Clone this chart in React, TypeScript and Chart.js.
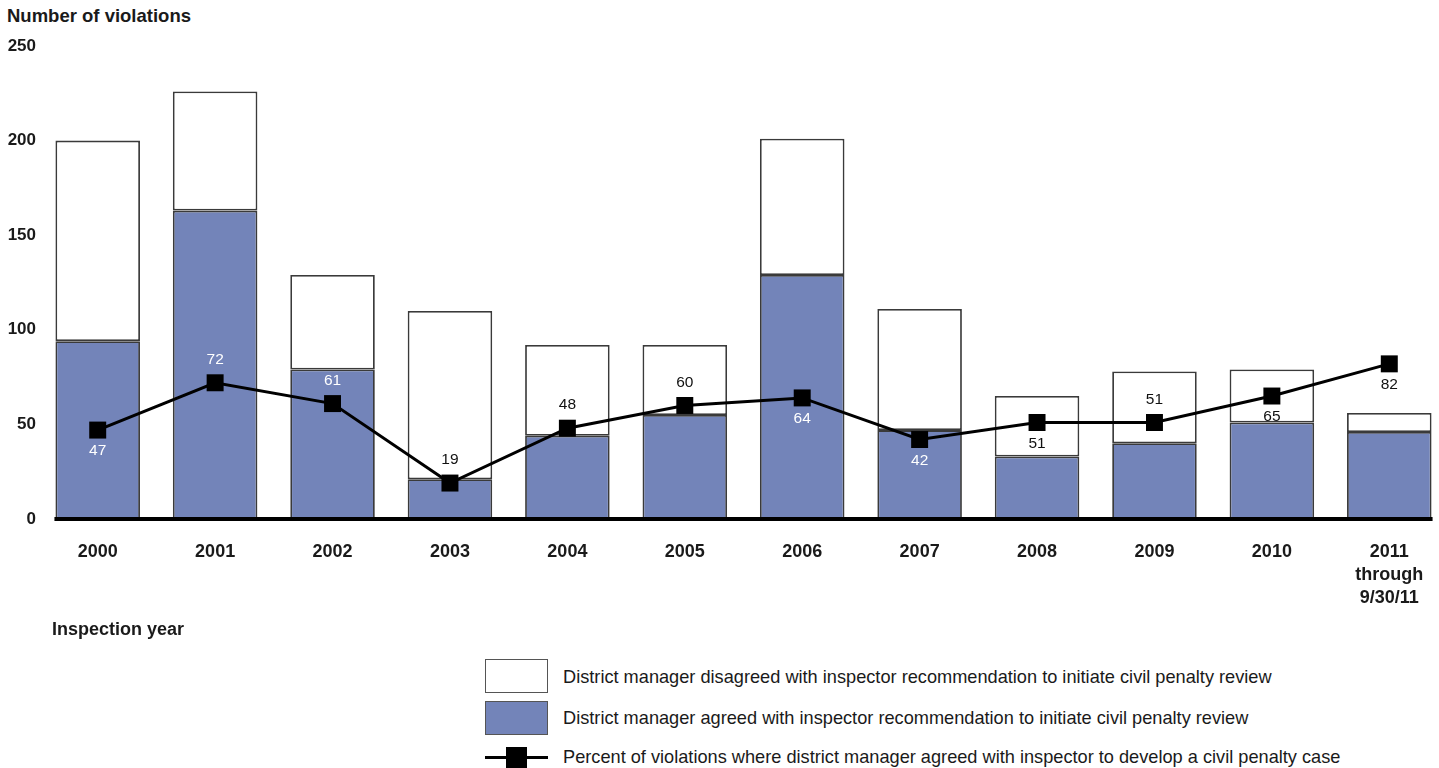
import React, { useEffect, useRef } from "react";
import { Chart, registerables } from "chart.js";

Chart.register(...registerables);

const categories: (string | string[])[] = [
  "2000", "2001", "2002", "2003", "2004", "2005", "2006", "2007", "2008", "2009", "2010",
  ["2011", "through", "9/30/11"],
];
const agreed = [94, 163, 79, 21, 44, 55, 129, 47, 33, 40, 51, 46];
const disagreed = [106, 63, 50, 89, 48, 37, 72, 64, 32, 38, 28, 10];
const percentAgreed = [47, 72, 61, 19, 48, 60, 64, 42, 51, 51, 65, 82];
const yTicks = [0, 50, 100, 150, 200, 250];

const labelPlacement = ["below", "above", "above", "above", "above", "above", "below", "below", "below", "above", "below", "below"];

const FONT = "'Liberation Sans', Arial, Helvetica, sans-serif";
const BLUE = "#7384b9";
const EDGE = "#3a3a3a";

const pointLabels = {
  id: "pointLabels",
  afterDatasetsDraw(chart: any) {
    const ctx = chart.ctx;
    const lineMeta = chart.getDatasetMeta(2);
    const blueMeta = chart.getDatasetMeta(0);
    ctx.save();
    ctx.font = `15.5px ${FONT}`;
    ctx.textAlign = "center";
    ctx.textBaseline = "middle";
    lineMeta.data.forEach((pt: any, i: number) => {
      const above = labelPlacement[i] === "above";
      const y = pt.y + (above ? -23 : 21);
      const bar = blueMeta.data[i];
      const inBlue = y > bar.y && y < bar.base;
      ctx.fillStyle = inBlue ? "#ffffff" : "#111111";
      ctx.fillText(String(percentAgreed[i]), pt.x, y);
    });
    ctx.restore();
  },
};

const baseLine = {
  id: "baseLine",
  afterDatasetsDraw(chart: any) {
    const ctx = chart.ctx;
    const m0 = chart.getDatasetMeta(0).data;
    if (!m0.length) return;
    const first = m0[0];
    const last = m0[m0.length - 1];
    const left = first.x - first.width / 2;
    const right = last.x + last.width / 2;
    const y = chart.chartArea.bottom;
    ctx.save();
    ctx.fillStyle = "#000000";
    ctx.fillRect(left - 1, y - 2, right - left + 2, 4);
    ctx.restore();
  },
};

export default function App() {
  const ref = useRef<HTMLCanvasElement | null>(null);

  useEffect(() => {
    if (!ref.current) return;
    const chart = new Chart(ref.current, {
      type: "bar",
      data: {
        labels: categories as any,
        datasets: [
          {
            type: "bar",
            label: "District manager agreed with inspector recommendation to initiate civil penalty review",
            data: agreed,
            backgroundColor: BLUE,
            borderColor: EDGE,
            borderWidth: 1.8,
            borderSkipped: false,
            stack: "bars",
            order: 2,
          } as any,
          {
            type: "bar",
            label: "District manager disagreed with inspector recommendation to initiate civil penalty review",
            data: disagreed,
            backgroundColor: "#ffffff",
            borderColor: EDGE,
            borderWidth: 1.8,
            borderSkipped: false,
            stack: "bars",
            order: 2,
          } as any,
          {
            type: "line",
            label: "Percent of violations where district manager agreed with inspector to develop a civil penalty case",
            data: percentAgreed,
            borderColor: "#000000",
            borderWidth: 3,
            pointStyle: "rect",
            pointRadius: 12,
            pointBackgroundColor: "#000000",
            pointBorderWidth: 0,
            stack: "pct",
            order: 1,
            tension: 0,
          } as any,
        ],
      },
      options: {
        responsive: false,
        animation: false,
        layout: { padding: { top: 46, right: 11, left: 0, bottom: 0 } },
        plugins: {
          legend: { display: false },
          title: { display: false },
          tooltip: { enabled: false },
        },
        scales: {
          x: {
            stacked: true,
            grid: { display: false, drawTicks: false },
            border: { display: false },
            ticks: {
              color: "#1a1a1a",
              font: { family: FONT, size: 18, weight: "bold", lineHeight: 1.3 },
              padding: 21,
              maxRotation: 0,
              autoSkip: false,
            },
            categoryPercentage: 1,
            barPercentage: 0.689,
            afterFit: (s: any) => {
              s.height = 101;
            },
          } as any,
          y: {
            stacked: true,
            min: 0,
            max: 250,
            afterBuildTicks: (s: any) => {
              s.ticks = yTicks.map((v) => ({ value: v }));
            },
            grid: { display: false, drawTicks: false },
            border: { display: false },
            ticks: {
              color: "#1a1a1a",
              font: { family: FONT, size: 17, weight: "bold" },
              padding: 3,
            },
            afterFit: (s: any) => {
              s.width = 39;
            },
          } as any,
        },
      },
      plugins: [pointLabels, baseLine],
    });
    return () => chart.destroy();
  }, []);

  const textStyle: React.CSSProperties = {
    position: "absolute",
    fontFamily: FONT,
    fontSize: 18.2,
    color: "#1a1a1a",
    whiteSpace: "nowrap",
    lineHeight: "22px",
  };

  return (
    <div style={{ position: "absolute", left: 0, top: 0, width: 1439, height: 768, background: "#ffffff", overflow: "hidden" }}>
      <div style={{ ...textStyle, left: 7, top: 5, fontWeight: "bold", fontSize: 18.5 }}>Number of violations</div>
      <canvas ref={ref} width={1460} height={620} style={{ position: "absolute", left: 0, top: 0 }} />
      <div style={{ ...textStyle, left: 52, top: 618, fontWeight: "bold", fontSize: 18 }}>Inspection year</div>

      <div style={{ position: "absolute", left: 485, top: 659, width: 61, height: 32, border: `1.5px solid #555`, background: "#fff" }} />
      <div style={{ ...textStyle, left: 563, top: 666 }}>
        District manager disagreed with inspector recommendation to initiate civil penalty review
      </div>

      <div style={{ position: "absolute", left: 485, top: 701, width: 61, height: 32, border: `1.5px solid #555`, background: BLUE }} />
      <div style={{ ...textStyle, left: 563, top: 707 }}>
        District manager agreed with inspector recommendation to initiate civil penalty review
      </div>

      <div style={{ position: "absolute", left: 485, top: 756, width: 63, height: 3, background: "#000" }} />
      <div style={{ position: "absolute", left: 506, top: 747, width: 21, height: 21, background: "#000" }} />
      <div style={{ ...textStyle, left: 563, top: 746 }}>
        Percent of violations where district manager agreed with inspector to develop a civil penalty case
      </div>
    </div>
  );
}
